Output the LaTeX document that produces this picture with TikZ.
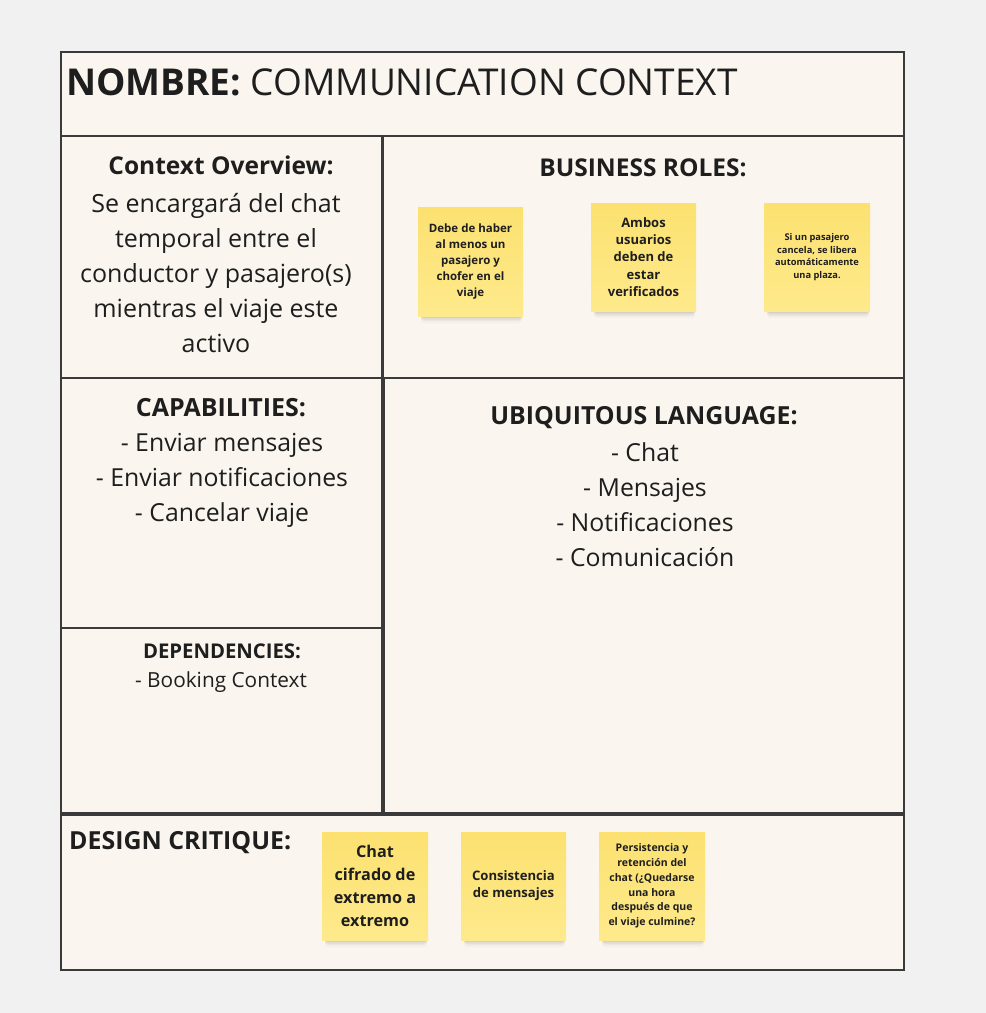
\documentclass[tikz,border=0pt]{standalone}
\usepackage{fontspec}
\setmainfont{Open Sans}
\definecolor{pagebg}{HTML}{F1F1F1}
\definecolor{panel}{HTML}{FAF6EF}
\definecolor{frame}{HTML}{3A3A3A}
\definecolor{ink}{HTML}{1E1E1E}
\definecolor{stickytop}{HTML}{FCE170}
\definecolor{stickybot}{HTML}{FEEA8C}
\tikzset{
  x=1pt, y=-1pt,
  panelbox/.style={draw=frame, line width=1.6pt, fill=panel},
  heading/.style={font=\bfseries\fontsize{#1}{#1}\selectfont, text=ink, inner sep=0pt, anchor=base},
  bodytext/.style={font=\fontsize{24.8}{35}\selectfont, text=ink, inner sep=0pt, align=center, anchor=north},
  sticky/.style={minimum width=106pt, minimum height=108pt, inner sep=0pt,
    top color=stickytop, bottom color=stickybot, align=center, text=ink},
}
% soft shadow under a sticky note, given its corners x1 y1 x2 y2
\newcommand{\stickyshadow}[4]{%
  \foreach \d/\o in {7/0.025, 5/0.035, 3.5/0.045, 2/0.06}{
    \fill[black, opacity=\o, rounded corners=3pt] (#1+3,#4-10) rectangle (#3-1,#4+\d);
  }
}
\begin{document}
\begin{tikzpicture}
  % page
  \fill[pagebg] (0,0) rectangle (986,1013);
  \useasboundingbox (0,0) rectangle (986,1013);

  % panels
  \draw[panelbox] (61,52) rectangle (904,136);
  \draw[panelbox] (61,136) rectangle (382,378);
  \draw[panelbox] (383,136) rectangle (904,378);
  \draw[panelbox] (61,378) rectangle (382,628);
  \draw[panelbox] (61,628) rectangle (382,813);
  \draw[panelbox] (384,378) rectangle (904,813);
  \draw[panelbox] (61,815) rectangle (904,970);
  \draw[frame, line width=2.4pt] (61,136) -- (904,136);

  % title
  \node[anchor=base west, inner sep=0pt, text=ink, font=\fontsize{37}{37}\selectfont]
    (title) at (66,95) {\textbf{NOMBRE:} COMMUNICATION CONTEXT};

  % context overview
  \node[heading=24.5] (ovhead) at (221,174) {Context Overview:};
  \node[bodytext, font=\fontsize{25}{35}\selectfont] (ovbody) at (216,193)
    {Se encargará del chat\\temporal entre el\\conductor y pasajero(s)\\mientras el viaje este\\activo};

  % business roles
  \node[heading=24.5] (brhead) at (643,176) {BUSINESS ROLES:};
  \stickyshadow{418}{207}{523}{316}
  \node[sticky, minimum width=105pt, minimum height=109pt] (br1) at (470.5,261.5)
    {\begin{minipage}{100pt}\centering\bfseries\fontsize{11.5}{16.2}\selectfont
      Debe de haber\\al menos un\\pasajero y\\chofer en el\\viaje\end{minipage}};
  \stickyshadow{591}{203}{696}{311}
  \node[sticky, minimum width=105pt, minimum height=108pt] (br2) at (643.5,257)
    {\begin{minipage}{100pt}\centering\bfseries\fontsize{13}{17.3}\selectfont
      Ambos\\usuarios\\deben de\\estar\\verificados\end{minipage}};
  \stickyshadow{764}{203}{870}{311}
  \node[sticky, minimum width=106pt, minimum height=108pt] (br3) at (817,257)
    {\begin{minipage}{100pt}\centering\bfseries\fontsize{9.3}{12.8}\selectfont
      Si un pasajero\\cancela, se libera\\automáticamente\\una plaza.\end{minipage}};

  % capabilities
  \node[heading=25] (caphead) at (221,416) {CAPABILITIES:};
  \node[bodytext] (capbody) at (222,433)
    {- Enviar mensajes\\- Enviar notificaciones\\- Cancelar viaje};

  % dependencies
  \node[heading=20.3] (dephead) at (222,658) {DEPENDENCIES:};
  \node[inner sep=0pt, anchor=base, text=ink, font=\fontsize{20.8}{20.8}\selectfont]
    (depbody) at (221,687) {- Booking Context};

  % ubiquitous language
  \node[heading=24.9] (ulhead) at (644,424) {UBIQUITOUS LANGUAGE:};
  \node[bodytext] (ulbody) at (645,442)
    {- Chat\\- Mensajes\\- Notificaciones\\- Comunicación};

  % design critique
  \node[heading=24.9, anchor=base west] (dchead) at (69,849) {DESIGN CRITIQUE:};
  \stickyshadow{322}{832}{428}{940}
  \node[sticky] (dc1) at (375,886)
    {\begin{minipage}{104pt}\centering\bfseries\fontsize{16.2}{23}\selectfont
      Chat\\cifrado de\\extremo a\\extremo\end{minipage}};
  \stickyshadow{461}{832}{566}{940}
  \node[sticky, minimum width=105pt] (dc2) at (513.5,886)
    {\begin{minipage}{104pt}\centering\bfseries\fontsize{13.1}{17}\selectfont
      Consistencia\\de mensajes\end{minipage}};
  \stickyshadow{599}{832}{705}{940}
  \node[sticky] (dc3) at (652,886)
    {\begin{minipage}{104pt}\centering\bfseries\fontsize{10.5}{14.8}\selectfont
      Persistencia y\\retención del\\chat (¿Quedarse\\una hora\\después de que\\el viaje culmine?\end{minipage}};
\end{tikzpicture}
\end{document}
